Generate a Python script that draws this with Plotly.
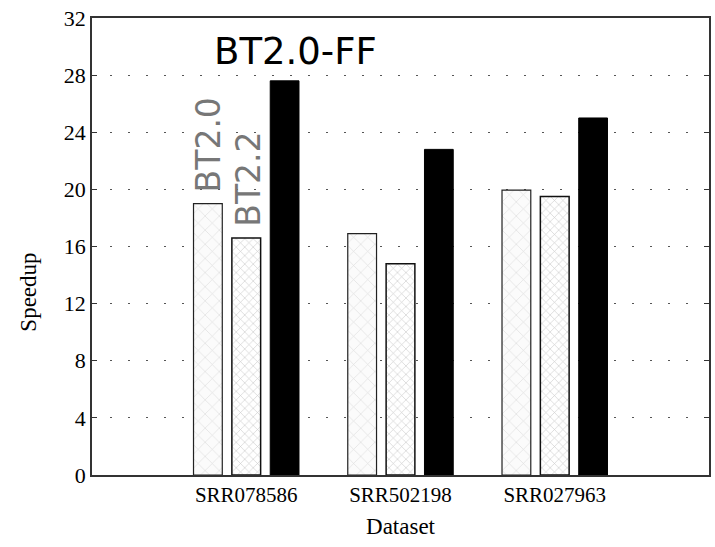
import plotly.graph_objects as go

datasets = ["SRR078586", "SRR502198", "SRR027963"]
bt20 = [19.0, 16.9, 19.95]
bt22 = [16.6, 14.8, 19.5]
bt20ff = [27.6, 22.8, 25.0]
yticks = [0, 4, 8, 12, 16, 20, 24, 28, 32]

fig = go.Figure()
fig.add_trace(go.Bar(x=datasets, y=bt20, name="BT2.0",
                     marker=dict(color="#fbfbfb", line=dict(color="#222", width=1.2),
                                 pattern=dict(shape="x", fgcolor="#bdbdbd", size=10, solidity=0.12))))
fig.add_trace(go.Bar(x=datasets, y=bt22, name="BT2.2",
                     marker=dict(color="#ffffff", line=dict(color="#111", width=1.5),
                                 pattern=dict(shape="x", fgcolor="#999999", size=6, solidity=0.2))))
fig.add_trace(go.Bar(x=datasets, y=bt20ff, name="BT2.0-FF",
                     marker=dict(color="#000000", line=dict(color="#000", width=1))))

serif = "Liberation Serif"
fig.update_layout(
    barmode="group", bargap=0.254, bargroupgap=0.25,
    width=715, height=547,
    margin=dict(l=92, r=4, t=18, b=72),
    plot_bgcolor="white", paper_bgcolor="white",
    showlegend=False,
    font=dict(family=serif, color="black"),
)
fig.update_xaxes(range=[-1, 3], showline=True, linecolor="#333", linewidth=1.5, mirror=True,
                 ticks="", tickfont=dict(family=serif, size=21),
                 title=dict(text="Dataset", font=dict(family=serif, size=23), standoff=12))
fig.update_yaxes(range=[0, 32], tickvals=yticks, showline=True, linecolor="#333", linewidth=1.5,
                 mirror="ticks", ticks="inside", ticklen=5, tickcolor="#333",
                 showgrid=True, gridcolor="#555", griddash="2px,16px", gridwidth=1.2,
                 zeroline=False, tickfont=dict(family=serif, size=22))

# y-axis title (placed lower than centre, as in the reference)
fig.add_annotation(xref="paper", yref="paper", x=-0.103, y=0.40, text="Speedup",
                   textangle=-90, showarrow=False, xanchor="center", yanchor="middle",
                   font=dict(family=serif, size=23, color="black"))

# labels attached to the first group's bars
fig.add_annotation(x=datasets[0], y=bt20[0], text="BT2.0", textangle=-90, showarrow=False,
                   xshift=-38, yanchor="bottom", yshift=9,
                   font=dict(family="DejaVu Sans", size=33, color="#777777"))
fig.add_annotation(x=datasets[0], y=bt22[0], text="BT2.2", textangle=-90, showarrow=False,
                   xshift=2, yanchor="bottom", yshift=9,
                   font=dict(family="DejaVu Sans", size=33, color="#777777"))
fig.add_annotation(x=datasets[0], y=bt20ff[0], text="BT2.0-FF", showarrow=False,
                   xshift=49, yanchor="bottom", yshift=6,
                   font=dict(family="DejaVu Sans", size=37, color="black"))

fig.write_html("out.html", config={"displayModeBar": False},
               post_script="document.body.style.margin='0';")
